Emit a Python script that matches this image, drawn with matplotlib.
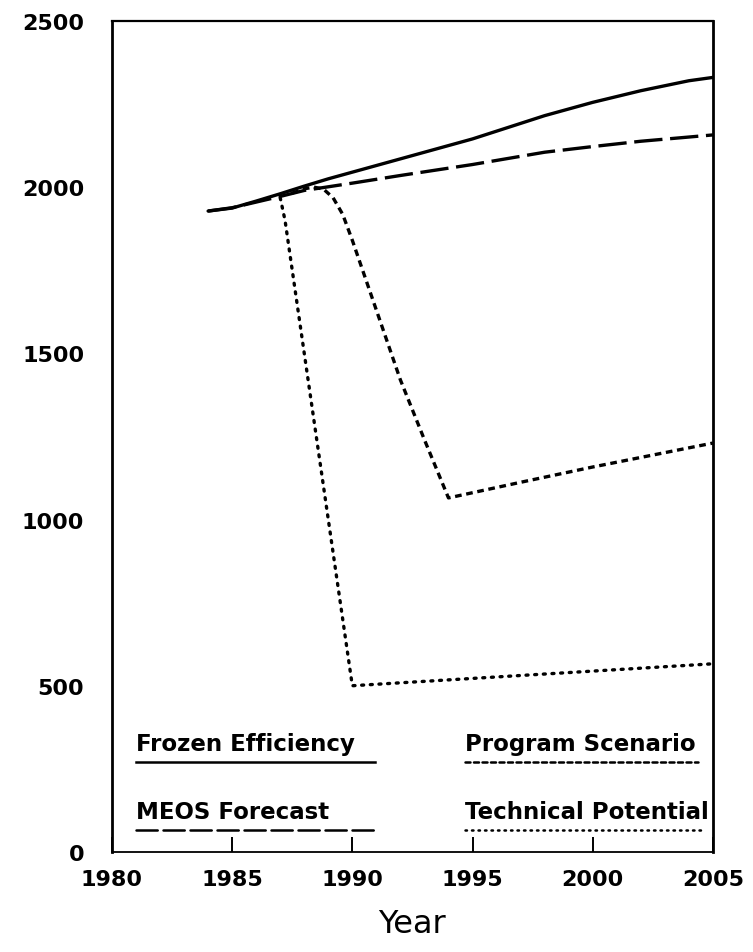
import matplotlib
matplotlib.use("Agg")
import matplotlib.pyplot as plt

# yearly values for the four scenarios
frozen_years = [1984, 1985, 1986, 1987, 1988, 1989, 1990, 1992, 1995, 1998, 2000, 2002, 2004, 2005]
frozen_vals = [1928, 1937, 1958, 1980, 2003, 2025, 2045, 2085, 2145, 2215, 2255, 2290, 2320, 2330]

meos_years = [1984, 1985, 1986, 1987, 1988, 1990, 1992, 1995, 1998, 2000, 2002, 2005]
meos_vals = [1928, 1938, 1955, 1972, 1990, 2012, 2035, 2068, 2105, 2122, 2138, 2157]

program_years = [1987.5, 1988.0, 1988.4, 1988.8, 1989.2, 1989.6, 1990.0, 1991, 1992, 1993, 1994, 1997, 2000, 2005]
program_vals = [1982, 1995, 2000, 1994, 1968, 1918, 1840, 1630, 1420, 1240, 1065, 1112, 1158, 1230]

tech_years = [1987.0, 1987.2, 1990.0, 1995, 2000, 2005]
tech_vals = [1968, 1900, 500, 522, 544, 566]

x_ticks = [1980, 1985, 1990, 1995, 2000, 2005]
y_ticks = [0, 500, 1000, 1500, 2000, 2500]

fig = plt.figure(figsize=(7.53, 9.53), dpi=100)
ax = fig.add_axes([0.1487, 0.105, 0.798, 0.872])

lw = 2.4
ax.plot(frozen_years, frozen_vals, color="black", lw=lw, solid_capstyle="round")
ax.plot(meos_years, meos_vals, color="black", lw=lw, linestyle=(0, (8.5, 2.3)))
ax.plot(program_years, program_vals, color="black", lw=lw, linestyle=(0, (2.0, 1.4)))
ax.plot(tech_years, tech_vals, color="black", lw=lw, linestyle=(0, (0.6, 2.0)),
        dash_capstyle="round")

ax.set_xlim(1980, 2005)
ax.set_ylim(0, 2500)

# ticks point inward, only the inner ones are drawn
ax.set_xticks(x_ticks)
ax.set_yticks(y_ticks)
ax.tick_params(axis="both", direction="in", width=1.4, color="black")
ax.tick_params(axis="x", length=11, pad=12)
ax.tick_params(axis="y", length=12, pad=20)
for t in ax.xaxis.get_major_ticks():
    if t.get_loc() in (1980, 2005):
        t.tick1line.set_visible(False)
for t in ax.yaxis.get_major_ticks():
    if t.get_loc() in (0, 2500):
        t.tick1line.set_visible(False)
for lab in ax.get_xticklabels() + ax.get_yticklabels():
    lab.set_fontsize(16)
    lab.set_fontweight("bold")
    lab.set_family("DejaVu Sans")

ax.spines["left"].set_linewidth(2.0)
ax.spines["right"].set_linewidth(2.0)
ax.spines["top"].set_linewidth(1.6)
ax.spines["bottom"].set_linewidth(1.3)

ax.set_xlabel("Year", fontsize=23, labelpad=14)

# hand-made key: label text with its line style underneath
key = [
    ("Frozen Efficiency", 0.040, 0.437, 0.108, "-"),
    ("MEOS Forecast", 0.040, 0.437, 0.026, (0, (8.5, 2.3))),
    ("Program Scenario", 0.587, 0.975, 0.108, (0, (2.0, 1.4))),
    ("Technical Potential", 0.587, 0.985, 0.026, (0, (0.6, 2.0))),
]
for text, x0, x1, y, ls in key:
    ax.text(x0, y + 0.009, text, transform=ax.transAxes, fontsize=16.5,
            fontweight="bold", family=["Liberation Sans Narrow", "DejaVu Sans"],
            ha="left", va="bottom")
    ax.plot([x0, x1], [y, y], transform=ax.transAxes, color="black",
            lw=1.8, linestyle=ls, dash_capstyle="round")

fig.savefig("out.png", dpi=100)
